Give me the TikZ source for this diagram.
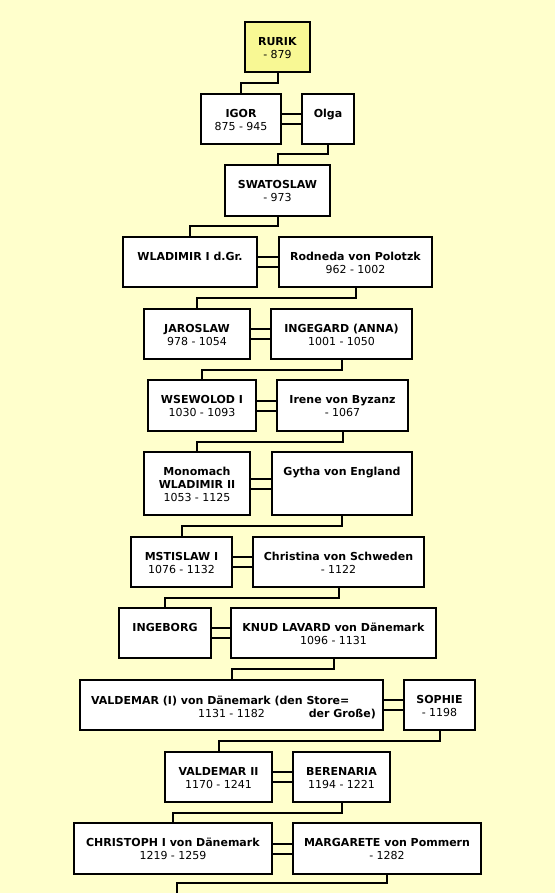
\documentclass[tikz,border=0pt]{standalone}
\usepackage{fontspec}
\setmainfont{DejaVu Sans}
\usetikzlibrary{calc}
\definecolor{bg}{HTML}{FFFFCC}
\definecolor{rurikfill}{HTML}{F8F894}
\tikzset{
 pbox/.style={draw=black, line width=2pt, fill=white, rectangle, inner sep=0pt, outer sep=0pt},
 ptext/.style={anchor=north, inner sep=0pt, align=center, font=\fontsize{11}{13}\selectfont},
 conn/.style={line width=2pt},
}
\newcommand\firstrule{\rule{0pt}{9pt}}
\newcommand\person[7][]{%
 \node[pbox,#1,minimum width={#5-#3-2}, minimum height={#6-#4-2}] (#2) at ({(#3+#5)/2},{(#4+#6)/2}) {};
 \node[ptext] (#2-t) at ({(#3+#5)/2},{#4+15}) {\firstrule#7};
}
\newcommand\desc[2]{\draw[conn] (#1.south) |- ($(#1.south)!0.5!(#2.north)$) -| (#2.north);}
\newcommand\marr[2]{%
 \draw[conn] ([yshift=5pt]#1.east) -- ([yshift=5pt]#2.west);
 \draw[conn] ([yshift=-5pt]#1.east) -- ([yshift=-5pt]#2.west);}
\begin{document}
\begin{tikzpicture}[x=1pt,y=-1pt]
\fill[bg] (0,0) rectangle (555,893);
\useasboundingbox (0,0) rectangle (555,893);
\person[fill=rurikfill]{rurik}{244}{21}{311}{73}{\textbf{RURIK}\\- 879}
\person{igor}{200}{93}{282}{145}{\textbf{IGOR}\\875 - 945}
\person{olga}{301}{93}{355}{145}{\textbf{Olga}}
\person{swat}{224}{164}{331}{217}{\textbf{SWATOSLAW}\\- 973}
\person{wlad}{122}{236}{258}{288}{\textbf{WLADIMIR I d.Gr.}}
\person{rodn}{278}{236}{433}{288}{\textbf{Rodneda von Polotzk}\\962 - 1002}
\person{jaro}{143}{308}{251}{360}{\textbf{JAROSLAW}\\978 - 1054}
\person{inge}{270}{308}{413}{360}{\textbf{INGEGARD (ANNA)}\\1001 - 1050}
\person{wsew}{147}{379}{257}{432}{\textbf{WSEWOLOD I}\\1030 - 1093}
\person{iren}{276}{379}{409}{432}{\textbf{Irene von Byzanz}\\- 1067}
\person{mono}{143}{451}{251}{516}{\textbf{Monomach}\\\textbf{WLADIMIR II}\\1053 - 1125}
\person{gyth}{271}{451}{413}{516}{\textbf{Gytha von England}}
\person{msti}{130}{536}{233}{588}{\textbf{MSTISLAW I}\\1076 - 1132}
\person{chri}{252}{536}{425}{588}{\textbf{Christina von Schweden}\\- 1122}
\person{ingb}{118}{607}{212}{659}{\textbf{INGEBORG}}
\person{knud}{230}{607}{437}{659}{\textbf{KNUD LAVARD von Dänemark}\\1096 - 1131}
\node[pbox,minimum width=303,minimum height=50] (vald) at (231.5,705) {};
\node[ptext,anchor=base west] (vald-t1) at (91,704) {\textbf{VALDEMAR (I) von Dänemark (den Store=}};
\node[ptext,anchor=base] (vald-t2) at (231.5,717) {1131 - 1182};
\node[ptext,anchor=base east] (vald-t3) at (376,717) {\textbf{der Große)}};
\person{soph}{403}{679}{476}{731}{\textbf{SOPHIE}\\- 1198}
\person{val2}{164}{751}{273}{803}{\textbf{VALDEMAR II}\\1170 - 1241}
\person{bere}{292}{751}{391}{803}{\textbf{BERENARIA}\\1194 - 1221}
\person{chrs}{73}{822}{273}{875}{\textbf{CHRISTOPH I von Dänemark}\\1219 - 1259}
\person{marg}{292}{822}{482}{875}{\textbf{MARGARETE von Pommern}\\- 1282}
\coordinate (next) at (177,900);
\desc{rurik}{igor}
\desc{olga}{swat}
\desc{swat}{wlad}
\desc{rodn}{jaro}
\desc{inge}{wsew}
\desc{iren}{mono}
\desc{gyth}{msti}
\desc{chri}{ingb}
\desc{knud}{vald}
\desc{soph}{val2}
\desc{bere}{chrs}
\draw[conn] (marg.south) |- ($(marg.south)+(0,9)$) -| (next);
\marr{igor}{olga}
\marr{wlad}{rodn}
\marr{jaro}{inge}
\marr{wsew}{iren}
\marr{mono}{gyth}
\marr{msti}{chri}
\marr{ingb}{knud}
\marr{vald}{soph}
\marr{val2}{bere}
\marr{chrs}{marg}
\end{tikzpicture}
\end{document}
